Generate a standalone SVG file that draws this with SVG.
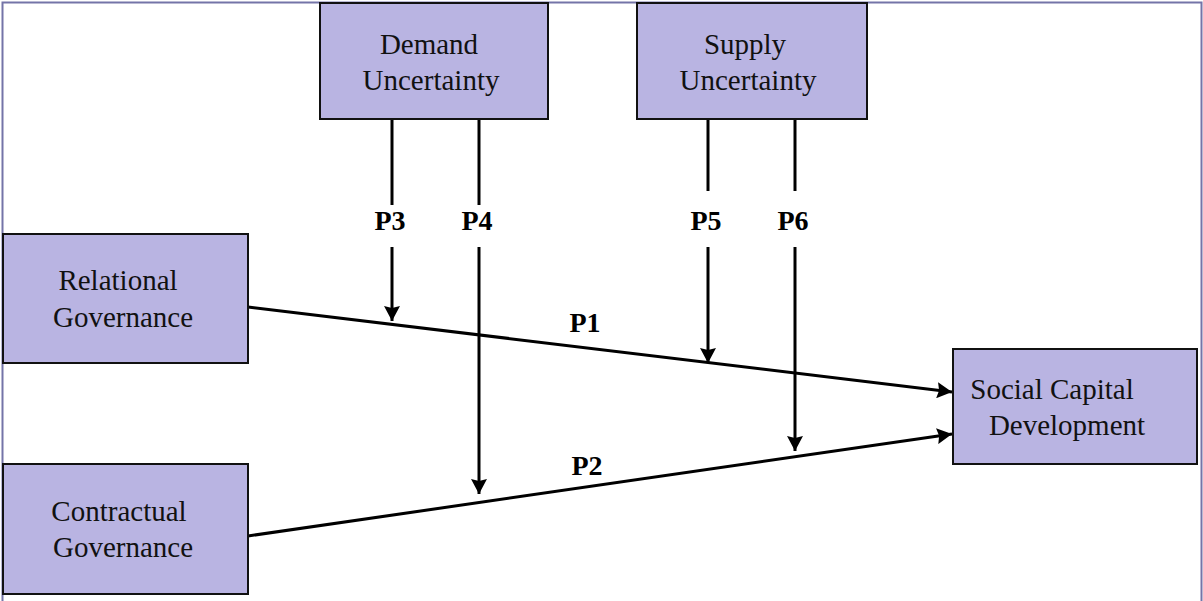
<svg xmlns="http://www.w3.org/2000/svg" width="1203" height="601" viewBox="0 0 1203 601">
<defs>
<style>
.box{fill:#b9b4e2;stroke:#111;stroke-width:2}
.t{font-family:"Liberation Serif","Times New Roman",serif;font-size:29px;fill:#111;text-anchor:middle}
.lb{font-family:"Liberation Serif","Times New Roman",serif;font-size:28px;font-weight:bold;fill:#000;text-anchor:middle}
.ln{stroke:#000;stroke-width:3;fill:none}
</style>
<marker id="ah" viewBox="0 0 15 16" refX="15" refY="8" markerWidth="15" markerHeight="16" markerUnits="userSpaceOnUse" orient="auto">
<path d="M0,0 L15,8 L0,16 L2,8 Z" fill="#000"/>
</marker>
</defs>
<rect width="1203" height="601" fill="#fff"/>
<path d="M2.5,601 V2.5 H1201.5 V601" fill="none" stroke="#7474a8" stroke-width="2"/>
<g id="connectors">
<line class="ln" x1="248" y1="307" x2="952" y2="392" marker-end="url(#ah)"/>
<line class="ln" x1="248" y1="536" x2="952" y2="434" marker-end="url(#ah)"/>
<line class="ln" x1="392" y1="119" x2="392" y2="205"/>
<line class="ln" x1="392" y1="247" x2="392" y2="321" marker-end="url(#ah)"/>
<line class="ln" x1="479" y1="119" x2="479" y2="205"/>
<line class="ln" x1="479" y1="247" x2="479" y2="494" marker-end="url(#ah)"/>
<line class="ln" x1="708" y1="119" x2="708" y2="191"/>
<line class="ln" x1="708" y1="247" x2="708" y2="363" marker-end="url(#ah)"/>
<line class="ln" x1="795" y1="119" x2="795" y2="191"/>
<line class="ln" x1="795" y1="247" x2="795" y2="451" marker-end="url(#ah)"/>
<text class="lb" x="390" y="230">P3</text>
<text class="lb" x="477" y="230">P4</text>
<text class="lb" x="706" y="230">P5</text>
<text class="lb" x="793" y="230">P6</text>
<text class="lb" x="585" y="332">P1</text>
<text class="lb" x="587" y="475">P2</text>
</g>
<g id="demand">
<rect class="box" x="320" y="3" width="228" height="116"/>
<text class="t" x="429" y="54">Demand</text>
<text class="t" x="431" y="90">Uncertainty</text>
</g>
<g id="supply">
<rect class="box" x="637" y="3" width="230" height="116"/>
<text class="t" x="745" y="54">Supply</text>
<text class="t" x="748" y="90">Uncertainty</text>
</g>
<g id="relational">
<rect class="box" x="3" y="234" width="245" height="129"/>
<text class="t" x="118" y="290">Relational</text>
<text class="t" x="123" y="327">Governance</text>
</g>
<g id="contractual">
<rect class="box" x="3" y="464" width="245" height="130"/>
<text class="t" x="119" y="521">Contractual</text>
<text class="t" x="123" y="557">Governance</text>
</g>
<g id="social">
<rect class="box" x="953" y="349" width="244" height="115"/>
<text class="t" x="1052" y="399">Social Capital</text>
<text class="t" x="1067" y="435">Development</text>
</g>
</svg>
